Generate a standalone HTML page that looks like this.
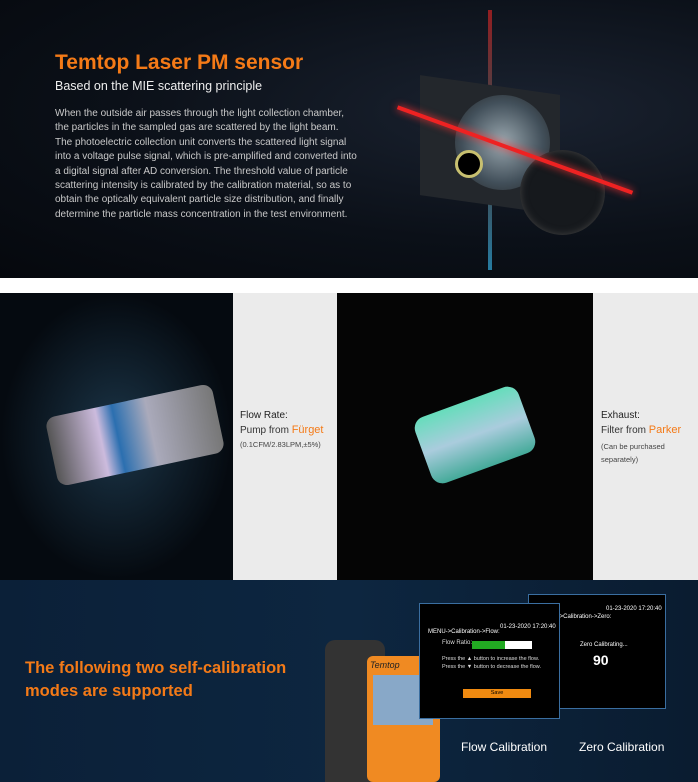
<!DOCTYPE html>
<html><head><style>
*{margin:0;padding:0;box-sizing:border-box}
body{width:698px;height:782px;background:#fff;font-family:"Liberation Sans",sans-serif;position:relative;overflow:hidden}
.a{position:absolute}
</style></head><body>
<div class="a" style="left:0;top:0;width:698px;height:278px;background:radial-gradient(ellipse at 75% 40%,#1a2230 0%,#0b1018 55%,#05080d 100%)"></div>
<div class="a" style="left:55px;top:51px;color:#f47a17;font-size:21px;font-weight:bold">Temtop Laser PM sensor</div>
<div class="a" style="left:55px;top:79px;color:#eee;font-size:12.5px">Based on the MIE scattering principle</div>
<div class="a" style="left:55px;top:107px;color:#c9c9c9;font-size:10px;line-height:14.4px;white-space:nowrap">When the outside air passes through the light collection chamber,<br>the particles in the sampled gas are scattered by the light beam.<br>The photoelectric collection unit converts the scattered light signal<br>into a voltage pulse signal, which is pre-amplified and converted into<br>a digital signal after AD conversion. The threshold value of particle<br>scattering intensity is calibrated by the calibration material, so as to<br>obtain the optically equivalent particle size distribution, and finally<br>determine the particle mass concentration in the test environment.</div>
<!-- sensor -->
<div class="a" style="left:488px;top:10px;width:4px;height:260px;background:linear-gradient(#c22 0%,#555 40%,#555 60%,#3ad 100%);opacity:.7"></div>
<div class="a" style="left:420px;top:85px;width:140px;height:120px;background:#23272c;transform:skewY(8deg)"></div>
<div class="a" style="left:455px;top:95px;width:95px;height:95px;border-radius:50%;background:radial-gradient(#b8c8d0,#4a5a66 60%,#222 100%);opacity:.8"></div>
<div class="a" style="left:520px;top:150px;width:85px;height:85px;border-radius:50%;background:#16191d;box-shadow:inset 0 0 8px #444"></div>
<div class="a" style="left:390px;top:148px;width:250px;height:4px;background:#e22;box-shadow:0 0 8px #f33;transform:rotate(20deg)"></div>
<div class="a" style="left:455px;top:150px;width:28px;height:28px;border-radius:50%;border:3px solid #c8c070;background:#000"></div>
<!-- middle -->
<div class="a" style="left:0;top:293px;width:233px;height:287px;background:radial-gradient(ellipse at 50% 50%,#1b3548,#050a10 70%)"></div>
<div class="a" style="left:50px;top:400px;width:170px;height:70px;background:linear-gradient(90deg,#555,#cbd 30%,#2b6fb0 40%,#aab 60%,#777);border-radius:10px;transform:rotate(-12deg)"></div>
<div class="a" style="left:233px;top:293px;width:104px;height:287px;background:#ebebeb"></div>
<div class="a" style="left:240px;top:410px;font-size:10px;color:#222">Flow Rate:</div>
<div class="a" style="left:240px;top:424px;font-size:10px;color:#333">Pump from <span style="color:#f47a17;font-size:11px">Fürget</span></div>
<div class="a" style="left:240px;top:440px;font-size:7.5px;color:#444">(0.1CFM/2.83LPM,±5%)</div>
<div class="a" style="left:337px;top:293px;width:256px;height:287px;background:#050505"></div>
<div class="a" style="left:420px;top:400px;width:110px;height:70px;background:linear-gradient(#6db,#acd 50%,#4a9);border-radius:12px;transform:rotate(-20deg)"></div>
<div class="a" style="left:593px;top:293px;width:105px;height:287px;background:#ebebeb"></div>
<div class="a" style="left:601px;top:410px;font-size:10px;color:#222">Exhaust:</div>
<div class="a" style="left:601px;top:424px;font-size:10px;color:#333">Filter from <span style="color:#f47a17;font-size:11px">Parker</span></div>
<div class="a" style="left:601px;top:440px;font-size:7.5px;color:#444;line-height:13px">(Can be purchased<br>separately)</div>
<!-- bottom -->
<div class="a" style="left:0;top:580px;width:698px;height:202px;background:linear-gradient(90deg,#0b2038,#0d2640 50%,#0a1c30)"></div>
<div class="a" style="left:25px;top:657px;color:#f47a17;font-size:16.5px;font-weight:bold;line-height:23px">The following two self-calibration<br>modes are supported</div>
<div class="a" style="left:325px;top:640px;width:60px;height:142px;background:#333;border-radius:10px 10px 0 0"></div>
<div class="a" style="left:367px;top:656px;width:73px;height:126px;background:#f08a22;border-radius:6px"></div>
<div class="a" style="left:373px;top:675px;width:60px;height:50px;background:#88a8c8"></div>
<div class="a" style="left:370px;top:660px;font-size:9px;color:#222;font-style:italic">Temtop</div>
<div class="a" style="left:528px;top:594px;width:138px;height:115px;background:#000;border:1px solid #3a6ea0"></div>
<div class="a" style="left:606px;top:606px;font-size:6px;color:#fff">01-23-2020 17:20:40</div>
<div class="a" style="left:540px;top:614px;font-size:6px;color:#fff">MENU-&gt;Calibration-&gt;Zero:</div>
<div class="a" style="left:580px;top:642px;font-size:6px;color:#fff">Zero Calibrating...</div>
<div class="a" style="left:593px;top:652px;font-size:14px;color:#fff;font-weight:bold">90</div>
<div class="a" style="left:419px;top:603px;width:141px;height:116px;background:#000;border:1px solid #3a6ea0"></div>
<div class="a" style="left:500px;top:624px;font-size:6px;color:#fff">01-23-2020 17:20:40</div>
<div class="a" style="left:428px;top:629px;font-size:6px;color:#fff">MENU-&gt;Calibration-&gt;Flow:</div>
<div class="a" style="left:442px;top:640px;font-size:6px;color:#ddd">Flow Ratio:</div>
<div class="a" style="left:472px;top:641px;width:60px;height:8px;background:linear-gradient(90deg,#2a2 55%,#fff 55%)"></div>
<div class="a" style="left:442px;top:655px;font-size:5.5px;color:#ddd;line-height:8px">Press the ▲ button to increase the flow.<br>Press the ▼ button to decrease the flow.</div>
<div class="a" style="left:463px;top:689px;width:68px;height:9px;background:#f08a10;font-size:5.5px;text-align:center;line-height:9px">Save</div>
<div class="a" style="left:461px;top:740px;font-size:12px;color:#fff">Flow Calibration</div>
<div class="a" style="left:579px;top:740px;font-size:12px;color:#fff">Zero Calibration</div>
</body></html>
